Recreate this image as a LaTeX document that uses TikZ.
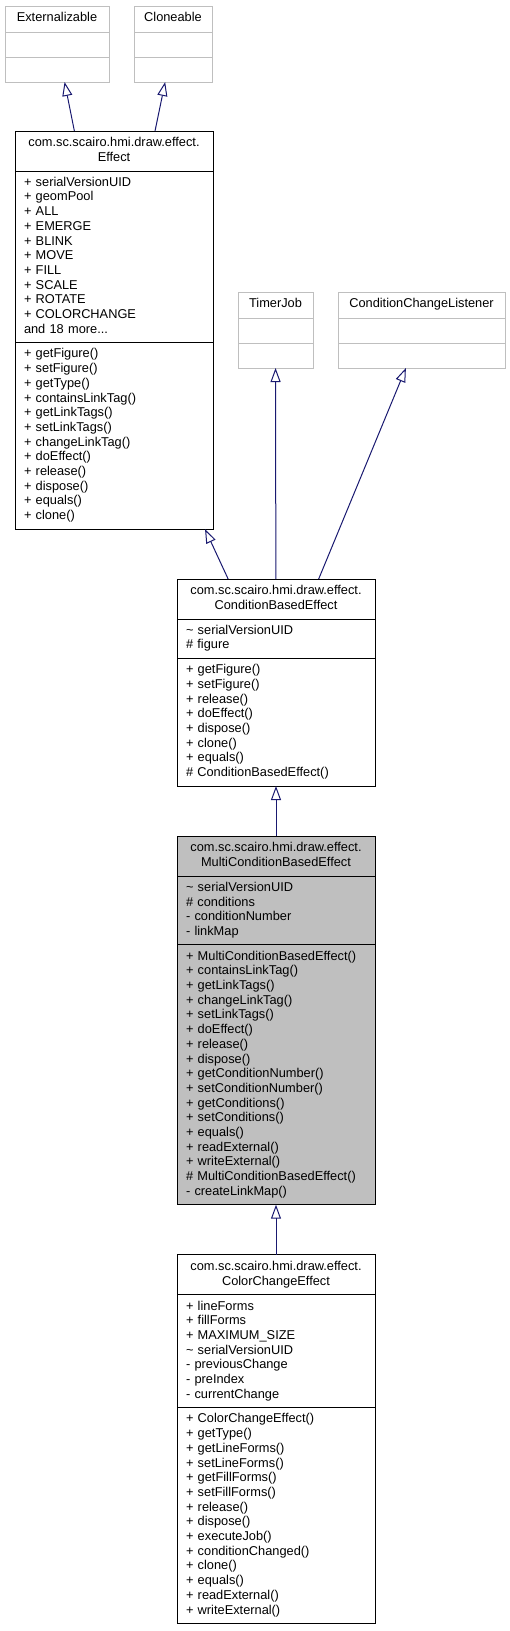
\documentclass[tikz,border=0pt]{standalone}
\usepackage{fontspec}
\setmainfont{Liberation Sans}
\usetikzlibrary{positioning, fit, arrows.meta}
\definecolor{edgeblue}{HTML}{191970}
\definecolor{extgray}{HTML}{BFBFBF}
\newcommand{\umlfont}{\fontsize{12.8}{14.7}\selectfont}
\tikzset{
>={Triangle[open, length=14pt, width=10pt]}, % hollow heads for inheritance
compartment/.style={draw, rectangle, line width=1pt, inner xsep=9pt, inner ysep=5pt, outer sep=0pt,
  font=\umlfont, execute at begin node=\strut, execute at end node=\strut}, % one box of a class
classname/.style={compartment, minimum height=40pt, text width=180pt, align=center}, % top part
members/.style={compartment, text width=180pt, align=left}, % attributes and operations
external/.style={compartment, draw=extgray, minimum width=#1, minimum height=25pt, inner ysep=0pt}, % library classes
classbox/.style={inner sep=0pt, outer sep=0pt}, % whole class, used for the edges
inherit/.style={->, draw=edgeblue, line width=1pt}, % generalisation
}

\begin{document}
\begin{tikzpicture}[x=1pt, y=1pt]
\useasboundingbox (0,0) rectangle (510,-1631);

% library interfaces
\node[external=104pt, minimum height=26pt, anchor=north west] (externalizableT) at (5,-6) {Externalizable};
\node[external=104pt, below=0pt of externalizableT] (externalizableA) {};
\node[external=104pt, below=0pt of externalizableA] (externalizableM) {};
\node[classbox, fit=(externalizableT)(externalizableM)] (externalizable) {};

\node[external=78pt, minimum height=26pt, anchor=north west] (cloneableT) at (134,-6) {Cloneable};
\node[external=78pt, below=0pt of cloneableT] (cloneableA) {};
\node[external=78pt, below=0pt of cloneableA] (cloneableM) {};
\node[classbox, fit=(cloneableT)(cloneableM)] (cloneable) {};

\node[external=75pt, minimum height=26pt, anchor=north west] (timerJobT) at (238,-292) {TimerJob};
\node[external=75pt, below=0pt of timerJobT] (timerJobA) {};
\node[external=75pt, below=0pt of timerJobA] (timerJobM) {};
\node[classbox, fit=(timerJobT)(timerJobM)] (timerJob) {};

\node[external=167pt, minimum height=26pt, anchor=north west] (condListenerT) at (338,-292) {ConditionChangeListener};
\node[external=167pt, below=0pt of condListenerT] (condListenerA) {};
\node[external=167pt, below=0pt of condListenerA] (condListenerM) {};
\node[classbox, fit=(condListenerT)(condListenerM)] (condListener) {};

% Effect
\node[classname, anchor=north west] (effectT) at (15,-131) {com.sc.scairo.hmi.draw.effect.\\Effect};
\node[members, below=0pt of effectT] (effectA) {+ serialVersionUID\\+ geomPool\\+ ALL\\+ EMERGE\\+ BLINK\\+ MOVE\\+ FILL\\+ SCALE\\+ ROTATE\\+ COLORCHANGE\\and 18 more...};
\node[members, below=0pt of effectA] (effectM) {+ getFigure()\\+ setFigure()\\+ getType()\\+ containsLinkTag()\\+ getLinkTags()\\+ setLinkTags()\\+ changeLinkTag()\\+ doEffect()\\+ release()\\+ dispose()\\+ equals()\\+ clone()};
\node[classbox, fit=(effectT)(effectM)] (effect) {};

% ConditionBasedEffect
\node[classname, anchor=north west] (condEffectT) at (177,-579) {com.sc.scairo.hmi.draw.effect.\\ConditionBasedEffect};
\node[members, below=0pt of condEffectT] (condEffectA) {\textasciitilde{} serialVersionUID\\\# figure};
\node[members, below=0pt of condEffectA] (condEffectM) {+ getFigure()\\+ setFigure()\\+ release()\\+ doEffect()\\+ dispose()\\+ clone()\\+ equals()\\\# ConditionBasedEffect()};
\node[classbox, fit=(condEffectT)(condEffectM)] (condEffect) {};

% MultiConditionBasedEffect (the documented class)
\node[classname, fill=extgray, below=50pt of condEffect] (multiEffectT) {com.sc.scairo.hmi.draw.effect.\\MultiConditionBasedEffect};
\node[members, fill=extgray, below=0pt of multiEffectT] (multiEffectA) {\textasciitilde{} serialVersionUID\\\# conditions\\- conditionNumber\\- linkMap};
\node[members, fill=extgray, below=0pt of multiEffectA] (multiEffectM) {+ MultiConditionBasedEffect()\\+ containsLinkTag()\\+ getLinkTags()\\+ changeLinkTag()\\+ setLinkTags()\\+ doEffect()\\+ release()\\+ dispose()\\+ getConditionNumber()\\+ setConditionNumber()\\+ getConditions()\\+ setConditions()\\+ equals()\\+ readExternal()\\+ writeExternal()\\\# MultiConditionBasedEffect()\\- createLinkMap()};
\node[classbox, fit=(multiEffectT)(multiEffectM)] (multiEffect) {};

% ColorChangeEffect
\node[classname, below=50pt of multiEffect] (colorEffectT) {com.sc.scairo.hmi.draw.effect.\\ColorChangeEffect};
\node[members, below=0pt of colorEffectT] (colorEffectA) {+ lineForms\\+ fillForms\\+ MAXIMUM\_SIZE\\\textasciitilde{} serialVersionUID\\- previousChange\\- preIndex\\- currentChange};
\node[members, below=0pt of colorEffectA] (colorEffectM) {+ ColorChangeEffect()\\+ getType()\\+ getLineForms()\\+ setLineForms()\\+ getFillForms()\\+ setFillForms()\\+ release()\\+ dispose()\\+ executeJob()\\+ conditionChanged()\\+ clone()\\+ equals()\\+ readExternal()\\+ writeExternal()};
\node[classbox, fit=(colorEffectT)(colorEffectM)] (colorEffect) {};

\draw[inherit] (effect) -- (externalizable);
\draw[inherit] (effect) -- (cloneable);
\draw[inherit] (condEffect) -- (effect);
\draw[inherit] (condEffect) -- (timerJob);
\draw[inherit] (condEffect) -- (condListener);
\draw[inherit] (multiEffect) -- (condEffect);
\draw[inherit] (colorEffect) -- (multiEffect);
\end{tikzpicture}
\end{document}
